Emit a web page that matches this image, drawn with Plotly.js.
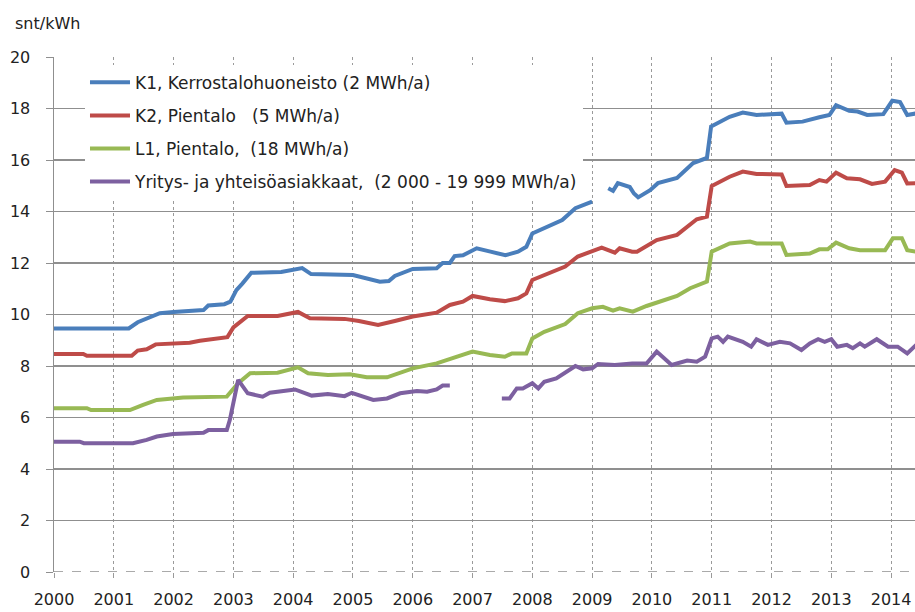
<!DOCTYPE html>
<html>
<head>
<meta charset="utf-8">
<script src="https://cdn.plot.ly/plotly-3.0.1.min.js"></script>
<style>html,body{margin:0;padding:0;background:#fff;}#chart{width:915px;height:612px;}</style>
</head>
<body>
<div id="chart"></div>
<script>
// Series names
const seriesNames = [
  "K1, Kerrostalohuoneisto (2\u00a0MWh/a)",
  "K2, Pientalo \u00a0 (5\u00a0MWh/a)",
  "L1, Pientalo, \u00a0(18\u00a0MWh/a)",
  "Yritys- ja yhteisöasiakkaat, \u00a0(2\u00a0000 - 19\u00a0999\u00a0MWh/a)"
];
const seriesColors = ["#4A7EBB", "#BE4B48", "#98B954", "#7D60A0"];

// K1 (null = gap in data)
const k1Years = [2000.0,2001.25,2001.4,2001.55,2001.77,2002.0,2002.5,2002.58,2002.85,2002.95,2003.05,2003.15,2003.3,2003.8,2004.0,2004.15,2004.3,2004.85,2005.0,2005.45,2005.6,2005.7,2006.0,2006.4,2006.5,2006.62,2006.7,2006.84,2007.07,2007.3,2007.55,2007.76,2007.9,2008.0,2008.2,2008.5,2008.72,2009.0,null,2009.27,2009.35,2009.43,2009.55,2009.63,2009.7,2009.77,2009.97,2010.1,2010.42,2010.69,2010.92,2010.99,2011.3,2011.52,2011.75,2012.17,2012.25,2012.52,2012.8,2012.97,2013.08,2013.3,2013.44,2013.6,2013.87,2014.02,2014.15,2014.27,2014.42];
const k1Values = [9.46,9.46,9.7,9.85,10.05,10.1,10.17,10.35,10.4,10.5,10.95,11.2,11.62,11.65,11.75,11.8,11.57,11.55,11.53,11.27,11.3,11.5,11.77,11.8,12.0,12.0,12.27,12.3,12.57,12.44,12.3,12.44,12.63,13.15,13.35,13.67,14.13,14.38,null,14.9,14.8,15.1,15.0,14.95,14.7,14.55,14.83,15.1,15.3,15.88,16.08,17.3,17.68,17.84,17.75,17.8,17.45,17.49,17.66,17.75,18.13,17.91,17.88,17.75,17.78,18.3,18.25,17.75,17.81];

// K2
const k2Years = [2000.0,2000.49,2000.55,2001.3,2001.4,2001.55,2001.7,2002.27,2002.44,2002.69,2002.9,2003.0,2003.24,2003.74,2004.08,2004.28,2004.86,2005.1,2005.42,2005.7,2006.0,2006.4,2006.62,2006.84,2007.0,2007.29,2007.54,2007.76,2007.9,2008.0,2008.2,2008.55,2008.76,2009.0,2009.16,2009.38,2009.46,2009.67,2009.75,2010.08,2010.42,2010.75,2010.92,2011.0,2011.3,2011.52,2011.75,2012.17,2012.25,2012.64,2012.8,2012.92,2013.08,2013.26,2013.48,2013.68,2013.9,2014.06,2014.18,2014.27,2014.42];
const k2Values = [8.47,8.47,8.4,8.4,8.6,8.65,8.84,8.9,8.98,9.07,9.12,9.5,9.94,9.94,10.1,9.85,9.83,9.75,9.59,9.75,9.92,10.07,10.37,10.5,10.72,10.59,10.52,10.63,10.82,11.34,11.53,11.86,12.25,12.44,12.6,12.4,12.57,12.44,12.44,12.89,13.09,13.7,13.8,14.99,15.35,15.55,15.46,15.44,14.99,15.03,15.22,15.16,15.51,15.29,15.25,15.07,15.16,15.61,15.51,15.09,15.1];

// L1
const l1Years = [2000.0,2000.55,2000.62,2001.27,2001.49,2001.72,2002.16,2002.89,2003.08,2003.28,2003.74,2004.08,2004.25,2004.58,2004.95,2005.23,2005.57,2006.0,2006.4,2006.74,2007.0,2007.29,2007.54,2007.66,2007.9,2008.0,2008.2,2008.55,2008.76,2009.0,2009.18,2009.35,2009.46,2009.68,2009.91,2010.42,2010.64,2010.92,2011.0,2011.3,2011.64,2011.75,2012.17,2012.25,2012.64,2012.8,2012.94,2013.08,2013.3,2013.48,2013.9,2014.03,2014.18,2014.27,2014.42];
const l1Values = [6.36,6.36,6.29,6.29,6.49,6.68,6.78,6.81,7.33,7.72,7.74,7.95,7.72,7.65,7.68,7.56,7.56,7.91,8.1,8.36,8.56,8.43,8.36,8.49,8.49,9.07,9.33,9.63,10.05,10.24,10.3,10.15,10.24,10.11,10.33,10.72,11.02,11.28,12.44,12.76,12.83,12.76,12.76,12.31,12.37,12.53,12.53,12.79,12.57,12.5,12.5,12.96,12.96,12.5,12.44];

// Yritys- ja yhteisöasiakkaat (null = gap in data)
const ytYears = [2000.0,2000.43,2000.5,2001.32,2001.55,2001.72,2001.99,2002.5,2002.58,2002.89,2002.94,2003.08,2003.24,2003.49,2003.61,2003.81,2004.03,2004.31,2004.58,2004.86,2004.98,2005.34,2005.57,2005.79,2006.07,2006.24,2006.4,2006.5,2006.62,null,2007.49,2007.62,2007.74,2007.84,2008.0,2008.1,2008.2,2008.4,2008.72,2008.85,2009.0,2009.1,2009.38,2009.67,2009.91,2010.08,2010.33,2010.59,2010.75,2010.89,2011.0,2011.1,2011.19,2011.27,2011.52,2011.66,2011.75,2011.94,2012.14,2012.31,2012.5,2012.64,2012.78,2012.89,2013.0,2013.1,2013.26,2013.36,2013.48,2013.56,2013.76,2013.95,2014.11,2014.27,2014.42];
const ytValues = [5.06,5.06,5.0,5.0,5.13,5.26,5.36,5.41,5.51,5.51,5.9,7.46,6.94,6.81,6.96,7.04,7.09,6.85,6.91,6.83,6.96,6.68,6.74,6.94,7.03,7.0,7.09,7.24,7.24,null,6.74,6.74,7.13,7.13,7.33,7.13,7.39,7.52,8.0,7.87,7.91,8.08,8.04,8.1,8.1,8.56,8.04,8.21,8.17,8.36,9.07,9.14,8.94,9.14,8.94,8.75,9.04,8.82,8.94,8.88,8.62,8.88,9.04,8.94,9.04,8.75,8.82,8.69,8.88,8.75,9.04,8.75,8.75,8.49,8.82];

// Axis ticks
const xTickVals = [2000,2001,2002,2003,2004,2005,2006,2007,2008,2009,2010,2011,2012,2013,2014];
const xTickText = ["2000","2001","2002","2003","2004","2005","2006","2007","2008","2009","2010","2011","2012","2013","2014"];
const yTickVals = [0,2,4,6,8,10,12,14,16,18,20];
const yUnit = "snt/kWh";

const xs = [k1Years, k2Years, l1Years, ytYears];
const ys = [k1Values, k2Values, l1Values, ytValues];

const traces = xs.map((x, i) => ({
  type: "scatter",
  mode: "lines",
  x: x,
  y: ys[i],
  name: seriesNames[i],
  legendgroup: "g" + i,
  connectgaps: false,
  line: {color: seriesColors[i], width: 4},
  hoverinfo: "skip"
}));

const tickFont = {family: "DejaVu Sans", size: 16, color: "#222"};

const layout = {
  width: 915,
  height: 612,
  margin: {l: 54, r: 0, t: 57, b: 40, pad: 0},
  paper_bgcolor: "#fff",
  plot_bgcolor: "#fff",
  showlegend: true,
  legend: {
    x: 0.036, y: 0.985, xanchor: "left", yanchor: "top",
    bgcolor: "#fff", borderwidth: 0,
    font: {family: "DejaVu Sans", size: 17, color: "#222"},
    tracegroupgap: 8,
    itemwidth: 40
  },
  xaxis: {
    range: [2000, 2014.4],
    tickmode: "array",
    tickvals: xTickVals,
    ticktext: xTickText,
    showgrid: true,
    gridcolor: "#9a9a9a",
    griddash: "dot",
    gridwidth: 1,
    ticks: "outside",
    ticklen: 5,
    tickcolor: "#9a9a9a",
    showline: false,
    zeroline: false,
    tickfont: tickFont,
    ticklabelstandoff: 8,
    fixedrange: true
  },
  yaxis: {
    range: [0, 20],
    tickmode: "array",
    tickvals: yTickVals,
    showgrid: true,
    gridcolor: "#8f8f8f",
    gridwidth: 1.5,
    ticks: "outside",
    ticklen: 7,
    tickcolor: "#8f8f8f",
    showline: true,
    linecolor: "#8f8f8f",
    linewidth: 1.5,
    zeroline: false,
    tickfont: tickFont,
    ticklabelstandoff: 12,
    fixedrange: true
  },
  shapes: [
    {type: "line", xref: "paper", yref: "y", x0: 0.002, x1: 1, y0: 0, y1: 0, line: {color: "#fff", width: 3}, layer: "above"},
    {type: "line", xref: "paper", yref: "y", x0: 0, x1: 1, y0: 0, y1: 0, line: {color: "#8f8f8f", width: 1.5, dash: "dash"}, layer: "above"}
  ],
  annotations: [
    {text: yUnit, xref: "paper", yref: "paper", x: -0.048, y: 1.065, xanchor: "left", yanchor: "middle", showarrow: false, font: {family: "DejaVu Sans", size: 16, color: "#222"}}
  ]
};

Plotly.newPlot("chart", traces, layout, {displayModeBar: false, staticPlot: true});
</script>
</body>
</html>
